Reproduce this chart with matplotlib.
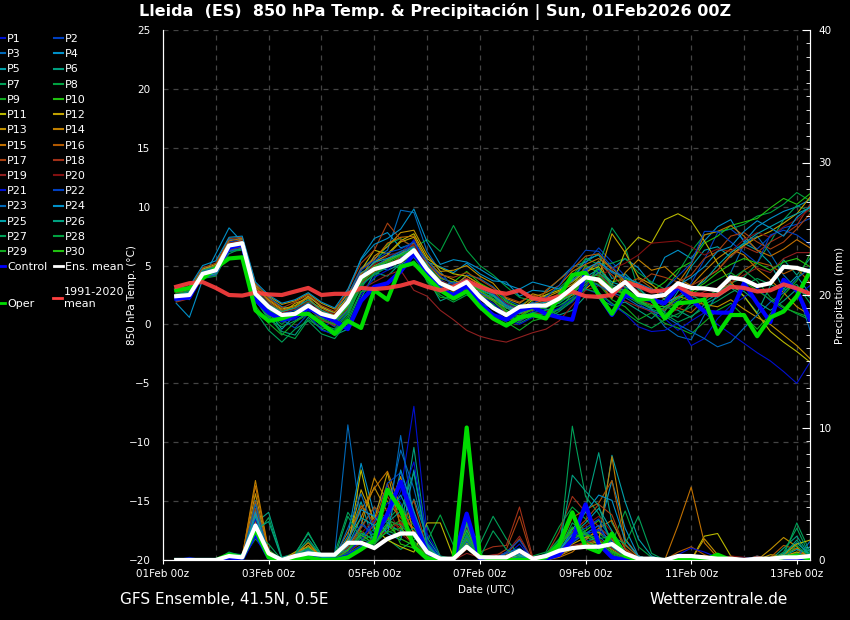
import numpy as np
import pandas as pd
import matplotlib
matplotlib.use("Agg")
import matplotlib.pyplot as plt
import matplotlib.dates as mdates
from matplotlib.lines import Line2D
from matplotlib.ticker import MultipleLocator

# 6-hourly steps, 01Feb 06z .. 13Feb 06z
times = pd.date_range("2026-02-01 06:00", periods=49, freq="6h")

# --- 850 hPa temperature (°C) ---
t_mean = [2.4, 2.5, 4.3, 4.6, 6.7, 6.9, 2.6, 1.5, 0.8, 0.9, 1.6, 0.9, 0.6, 1.9, 4.0, 4.7, 5.0, 5.4, 6.3, 4.7, 3.5, 3.0, 3.6,
          2.35, 1.4, 0.8, 1.5, 1.6, 1.6, 2.2, 3.1, 4.0, 3.8, 2.8, 3.6, 2.5, 2.35, 2.5, 3.5, 3.1, 3.06, 2.9, 4.0, 3.8,
          3.26, 3.5, 4.9, 4.8, 4.5]
t_clim = [3.2, 3.5, 3.6, 3.1, 2.5, 2.45, 2.7, 2.55, 2.5, 2.8, 3.1, 2.5, 2.6, 2.6, 3.1, 3.0, 3.1, 3.3, 3.6, 3.2, 2.9, 3.2, 3.7,
          3.2, 2.8, 2.6, 2.9, 2.2, 2.1, 2.35, 2.8, 2.4, 2.35, 2.5, 3.6, 3.26, 2.8, 2.9, 3.26, 2.6, 2.5, 2.5, 3.2, 3.1,
          2.8, 2.9, 3.4, 3.06, 2.6]
t_control = [2.2, 2.3, 4.3, 4.6, 6.5, 6.8, 2.1, 1.0, 0.4, 0.7, 1.4, 0.8, 0.3, -0.4, 2.0, 3.2, 3.5, 4.5, 6.0, 4.5, 3.0, 2.5, 3.3,
             1.8, 0.8, 0.4, 1.2, 1.5, 0.9, 0.6, 0.4, 4.5, 2.5, 0.8, 2.5, 2.2, 2.1, 1.8, 3.2, 2.1, 1.1, 1.0, 1.0, 3.5,
             1.8, 0.2, 3.8, 2.9, 0.4]
t_oper = [2.9, 3.1, 3.9, 4.8, 5.6, 5.7, 1.2, 0.3, 0.5, 0.9, 0.9, 0.1, -0.8, 0.3, -0.3, 2.9, 2.1, 4.9, 5.2, 4.0, 2.9, 2.2, 2.8,
          1.5, 0.5, -0.1, 0.6, 0.8, 0.5, 2.35, 4.2, 4.4, 2.5, 0.9, 2.9, 2.1, 2.2, 0.5, 1.8, 1.9, 2.1, -0.8, 0.8, 0.8,
          -1.0, 0.6, 1.1, 2.4, 4.5]

t_p01 = [2.0, 2.2, 4.5, 4.8, 6.9, 7.1, 2.2, 1.0, 0.2, 0.5, 1.2, -0.2, 0.3, 1.5, 3.2, 4.3, 4.8, 5.6, 6.8, 4.2, 3.0, 2.6, 3.1, 2.5, 1.8,
         0.9, 0.2, 1.0, 1.3, 1.2, 1.9, 3.1, 4.6, 2.4, 3.2, 1.8, 1.0, 0.5, -0.5, 0.3, 1.0, 0.0, -0.8, -1.6, -2.4, -3.1, -4.0, -5.0, -3.2]
t_p02 = [2.3, 2.8, 4.6, 5.0, 7.0, 7.2, 2.9, 1.2, 0.4, -0.3, 0.9, 0.5, -0.2, 1.0, 3.5, 5.2, 5.9, 6.1, 7.1, 5.0, 3.8, 3.2, 3.0, 2.7, 2.0,
         1.0, 0.5, 1.1, 1.9, 2.5, 3.9, 5.2, 6.5, 5.3, 4.1, 3.0, 2.2, 1.5, 2.0, 3.5, 5.5, 7.8, 8.1, 7.2, 6.4, 7.5, 8.2, 8.5, 9.0]
t_p03 = [2.6, 2.1, 4.8, 4.9, 7.2, 7.3, 3.0, 1.9, 1.0, 1.4, 2.0, 0.6, 0.7, 2.5, 4.8, 5.6, 6.3, 9.7, 9.5, 6.2, 4.5, 3.1, 4.2, 3.9, 3.2,
         2.1, 1.6, 2.2, 2.4, 2.1, 3.0, 4.6, 5.1, 4.4, 3.8, 2.2, 1.3, -0.2, -1.0, -1.3, 0.8, 2.6, 4.4, 6.8, 7.5, 6.0, 4.2, 3.0, -0.5]
t_p04 = [1.8, 0.6, 3.8, 6.0, 8.2, 7.0, 3.4, 2.3, 1.5, 1.2, 2.4, 1.5, 0.9, 2.8, 5.6, 7.3, 7.8, 6.5, 6.9, 5.3, 4.9, 4.4, 5.2, 4.3, 3.7,
         3.6, 2.4, 2.9, 2.8, 3.8, 4.9, 5.3, 6.0, 4.7, 5.6, 4.8, 3.4, 5.7, 6.3, 5.6, 7.1, 8.3, 8.9, 7.0, 8.3, 9.0, 9.6, 10.0, 10.6]
t_p05 = [2.1, 2.4, 4.0, 4.2, 6.4, 6.6, 2.8, 1.1, -0.4, 0.8, 1.3, 0.6, 0.2, 1.7, 4.4, 5.0, 4.6, 5.1, 5.7, 4.3, 2.7, 3.4, 3.9, 3.2, 2.6,
         1.9, 1.2, 1.9, 1.4, 2.7, 3.8, 5.5, 5.9, 3.9, 4.3, 3.2, 1.9, 1.1, 2.8, 4.9, 6.3, 6.6, 5.7, 6.9, 6.3, 5.2, 3.0, 4.1, 2.6]
t_p06 = [2.7, 3.0, 4.4, 4.5, 6.5, 6.8, 2.0, 0.6, -0.6, -0.9, 0.6, -0.4, -0.9, -0.4, 2.2, 4.4, 4.1, 5.2, 6.4, 4.0, 2.0, 2.5, 2.8, 2.5, 2.4,
         1.8, 1.5, 1.7, 1.3, 0.8, 1.2, 2.4, 2.2, 1.6, 1.9, 1.2, 0.5, 1.5, 1.2, 0.6, 1.7, 2.3, 3.1, 2.4, 1.0, 3.3, 5.5, 4.2, 5.6]
t_p07 = [2.5, 2.8, 4.2, 4.4, 6.0, 6.5, 1.1, -0.5, -1.5, -0.4, 0.3, -0.8, -1.2, 0.2, 2.7, 3.9, 5.6, 4.6, 5.9, 4.4, 3.2, 2.6, 3.5, 2.3, 1.6,
         0.6, 0.1, 0.7, 0.5, 1.1, 2.0, 3.2, 5.0, 8.2, 6.6, 3.0, 2.1, 1.0, 0.6, 1.8, 2.2, 2.7, 3.5, 4.0, 5.2, 7.0, 8.9, 10.1, 9.6]
t_p08 = [2.2, 2.5, 3.9, 4.1, 6.2, 6.3, 2.5, 0.9, 0.0, 1.0, 1.5, 0.3, 0.0, 1.3, 3.0, 5.1, 6.8, 7.3, 6.5, 7.2, 6.2, 8.4, 6.3, 5.0, 4.2,
         3.2, 2.3, 2.0, 2.5, 3.1, 4.1, 5.6, 5.1, 5.2, 5.6, 4.4, 3.6, 3.0, 4.4, 6.2, 7.6, 7.9, 8.1, 8.5, 9.2, 9.5, 10.2, 11.2, 10.5]
t_p09 = [2.8, 3.1, 4.5, 4.8, 6.6, 6.7, 1.6, 0.1, -0.9, 0.2, 0.9, 0.1, -0.6, 0.7, 3.3, 4.4, 4.9, 5.5, 6.2, 3.6, 2.3, 2.2, 2.7, 1.7, 0.9,
         0.2, -0.5, 0.3, 0.6, 1.3, 2.6, 3.8, 3.4, 2.1, 1.5, 0.4, 1.0, 0.1, -0.3, -0.8, 0.2, 1.2, 1.8, 0.7, -0.4, 0.9, 2.5, 3.7, 6.0]
t_p10 = [2.3, 2.7, 4.1, 4.7, 6.3, 6.4, 2.3, 0.7, 0.4, 1.1, 1.9, 0.8, 0.4, 1.8, 3.8, 4.8, 5.3, 6.0, 6.6, 4.9, 3.9, 3.6, 4.5, 3.5, 2.9,
         2.0, 1.4, 2.4, 2.0, 2.3, 3.2, 5.0, 4.4, 3.6, 3.9, 3.3, 2.8, 3.6, 4.7, 5.3, 6.9, 7.5, 8.4, 8.7, 9.0, 9.9, 10.7, 10.2, 11.1]
t_p11 = [2.6, 3.0, 4.7, 5.1, 6.9, 7.0, 3.1, 2.1, 1.3, 1.6, 2.4, 1.5, 1.0, 2.3, 4.6, 6.3, 6.0, 7.1, 7.7, 5.6, 4.8, 4.3, 4.1, 3.4, 2.8,
         1.7, 1.2, 2.1, 2.5, 2.9, 3.6, 4.5, 4.9, 3.3, 6.2, 7.4, 6.9, 8.9, 9.4, 8.8, 7.1, 5.2, 3.6, 2.4, 0.9, -0.6, -1.5, -2.3, -3.2]
t_p12 = [2.0, 2.3, 4.2, 4.3, 6.5, 6.8, 2.9, 1.6, 0.9, 1.8, 2.2, 1.2, 0.8, 2.0, 4.1, 5.3, 5.9, 7.0, 7.4, 5.4, 4.3, 3.8, 3.2, 2.8, 2.1,
         1.4, 1.0, 1.3, 1.8, 2.0, 2.5, 3.0, 4.0, 7.7, 6.1, 4.0, 3.4, 2.5, 3.1, 2.7, 3.9, 4.6, 5.9, 6.7, 7.4, 7.9, 8.6, 9.4, 10.8]
t_p13 = [2.4, 2.6, 4.3, 4.6, 6.8, 7.2, 3.3, 2.4, 1.7, 2.0, 2.6, 1.8, 1.3, 2.6, 4.0, 5.8, 6.6, 7.8, 8.0, 5.9, 4.5, 4.6, 5.0, 4.1, 3.5,
         2.2, 1.8, 2.6, 2.3, 2.8, 3.4, 4.3, 5.4, 3.0, 2.6, 2.3, 2.0, 1.8, 2.4, 2.0, 1.7, 1.5, 2.1, 1.3, 0.6, 0.0, -0.9, -1.8, -2.9]
t_p14 = [2.1, 2.3, 4.1, 4.3, 6.7, 7.0, 2.7, 1.8, 1.1, 1.3, 2.0, 1.4, 0.8, 2.2, 4.3, 5.0, 5.5, 6.0, 6.8, 4.6, 3.6, 3.3, 4.1, 3.4, 2.6,
         1.5, 1.1, 1.8, 2.1, 2.4, 3.0, 4.1, 3.6, 2.2, 4.4, 5.5, 4.6, 4.9, 3.9, 3.3, 4.5, 5.6, 6.4, 5.9, 4.7, 3.8, 2.7, 1.5, 0.8]
t_p15 = [2.5, 2.9, 4.6, 5.0, 7.1, 7.3, 3.2, 2.0, 1.2, 1.5, 2.3, 1.0, 0.5, 2.0, 4.7, 5.5, 6.9, 7.4, 7.5, 5.2, 4.0, 3.5, 3.7, 3.0, 2.5,
         1.4, 1.4, 2.3, 2.7, 3.3, 4.5, 5.1, 5.6, 4.8, 3.7, 2.8, 2.0, 2.6, 3.5, 5.1, 7.6, 7.9, 8.4, 7.5, 6.3, 5.8, 6.4, 7.2, 6.5]
t_p16 = [2.2, 2.4, 4.4, 4.6, 6.6, 6.9, 2.8, 1.4, 0.6, 0.8, 1.7, 0.7, 0.1, 1.6, 3.6, 4.5, 5.0, 5.7, 6.9, 4.4, 3.4, 2.8, 3.4, 2.6, 2.0,
         1.0, 0.9, 1.2, 2.9, 3.8, 4.7, 5.8, 6.0, 4.6, 3.5, 3.9, 3.1, 2.1, 1.4, 1.0, 2.1, 3.0, 3.4, 4.6, 5.3, 5.0, 4.3, 4.8, 3.5]
t_p17 = [2.7, 3.1, 4.8, 5.2, 7.3, 7.4, 3.5, 2.2, 1.4, 1.9, 2.5, 1.6, 1.1, 2.9, 5.2, 6.3, 8.6, 7.2, 6.6, 5.1, 4.2, 4.0, 4.4, 3.8, 3.1,
         2.3, 1.9, 2.5, 2.1, 2.6, 3.7, 4.8, 5.2, 4.2, 3.1, 3.5, 4.3, 4.0, 3.6, 4.2, 5.6, 6.2, 7.5, 7.8, 7.0, 6.4, 7.0, 8.1, 9.4]
t_p18 = [1.9, 2.2, 4.0, 4.2, 6.3, 6.6, 2.4, 1.3, 0.5, 0.6, 1.4, 0.4, -0.1, 1.4, 3.4, 4.8, 5.4, 5.2, 6.0, 4.5, 3.6, 2.8, 2.9, 2.1, 1.5,
         0.6, 0.3, 0.9, 1.0, 1.9, 3.3, 4.0, 4.3, 3.2, 2.9, 2.1, 1.7, 1.2, 2.4, 3.3, 3.9, 4.6, 5.8, 6.6, 6.1, 7.0, 7.6, 8.4, 10.2]
t_p19 = [2.3, 2.6, 4.2, 4.5, 6.6, 7.0, 2.6, 1.4, 0.7, 1.0, 1.8, 1.1, 0.7, 1.8, 3.0, 3.6, 4.2, 4.6, 2.9, 2.4, 1.2, 0.4, -0.5, -1.0, -1.3,
         -1.5, -1.1, -0.7, -0.4, 0.3, 1.6, 2.9, 3.3, 2.6, 2.0, 1.5, 1.1, 0.8, 1.3, 2.2, 2.8, 3.1, 3.6, 4.2, 4.8, 4.4, 5.6, 6.1, 6.1]
t_p20 = [2.6, 2.9, 4.5, 4.7, 6.9, 7.1, 3.0, 1.8, 1.0, 1.3, 2.0, 1.2, 0.9, 2.1, 4.2, 5.1, 5.8, 6.2, 6.8, 5.0, 3.7, 3.3, 3.9, 3.3, 2.7,
         1.8, 1.3, 1.6, 2.0, 2.4, 2.9, 3.4, 4.1, 4.7, 5.2, 5.9, 6.9, 7.0, 7.1, 6.6, 5.9, 6.4, 6.2, 7.2, 7.8, 7.4, 8.3, 8.9, 9.8]
t_p21 = [2.1, 2.2, 4.2, 4.4, 6.6, 6.9, 2.3, 0.9, 0.3, 0.4, 0.9, -0.5, -0.8, -0.1, 2.5, 4.0, 4.6, 5.6, 7.2, 4.6, 3.0, 2.4, 2.8, 1.9, 1.3,
         0.4, 0.0, 0.6, 0.9, 1.4, 2.2, 3.0, 2.6, 1.7, 0.9, -0.2, -0.6, -0.5, 0.1, -1.8, -1.2, 0.5, 1.6, 2.3, 3.1, 2.0, 1.2, 2.4, 3.3]
t_p22 = [2.4, 2.7, 4.5, 4.8, 6.8, 7.0, 2.7, 1.6, 0.9, 1.2, 1.8, 1.0, 0.5, 2.2, 4.6, 5.4, 6.1, 6.4, 7.0, 5.4, 4.1, 3.4, 3.8, 3.2, 2.6,
         1.7, 1.3, 1.8, 2.3, 3.3, 4.9, 6.3, 6.2, 4.9, 3.8, 2.7, 1.9, 3.0, 4.1, 5.2, 7.9, 7.9, 7.0, 6.1, 5.2, 7.6, 8.0, 7.6, 6.8]
t_p23 = [2.0, 2.3, 4.0, 4.2, 6.2, 6.5, 2.4, 1.2, 0.5, 0.7, 1.5, 0.6, 0.2, 1.2, 3.9, 4.9, 5.6, 6.2, 6.6, 4.3, 3.2, 3.6, 3.3, 2.7, 2.2,
         1.5, 1.0, 1.4, 1.7, 2.2, 3.1, 3.8, 3.3, 2.7, 2.3, 1.6, 1.2, 0.7, 0.0, -0.6, -1.2, -1.9, -1.5, -0.3, 0.8, 1.9, 2.7, 3.9, 4.8]
t_p24 = [2.8, 3.2, 5.0, 5.4, 7.4, 7.5, 3.6, 2.5, 1.8, 2.1, 2.7, 1.9, 1.4, 3.0, 5.5, 6.8, 7.3, 8.1, 9.8, 7.0, 5.1, 5.5, 5.3, 4.7, 4.0,
         3.4, 3.0, 3.6, 3.3, 3.0, 3.7, 4.7, 5.3, 4.5, 4.0, 3.5, 3.0, 2.6, 3.3, 4.0, 4.9, 6.2, 6.6, 7.9, 8.8, 8.2, 7.5, 9.1, 10.0]
t_p25 = [2.2, 2.4, 4.1, 4.3, 6.5, 6.8, 2.5, 1.3, 0.5, 0.8, 1.6, 0.7, 0.3, 1.6, 4.1, 5.3, 5.6, 6.0, 6.5, 4.6, 3.5, 3.1, 3.6, 2.9, 2.5,
         1.6, 1.1, 1.7, 1.9, 2.3, 3.0, 4.0, 4.7, 3.6, 3.2, 2.6, 2.1, 1.8, 2.3, 2.9, 3.7, 5.0, 6.1, 6.9, 7.7, 8.3, 8.9, 9.4, 9.9]
t_p26 = [2.5, 2.8, 4.6, 4.9, 6.8, 7.0, 2.9, 1.7, 1.1, 1.4, 2.1, 1.2, 0.7, 1.9, 3.9, 4.7, 5.4, 5.9, 6.2, 5.1, 3.6, 3.2, 3.8, 3.0, 2.4,
         1.4, 0.9, 1.6, 1.5, 1.8, 2.6, 3.6, 4.4, 3.4, 2.8, 2.0, 1.4, 2.2, 3.0, 2.5, 1.9, 2.6, 3.4, 2.8, 1.9, 1.2, 2.0, 3.0, 2.3]
t_p27 = [2.1, 2.5, 4.3, 4.4, 6.4, 6.7, 2.1, 0.4, -0.2, 0.3, 1.0, 0.0, -0.4, 0.9, 3.4, 4.2, 4.9, 5.3, 5.8, 4.0, 2.8, 2.4, 3.1, 2.3, 1.7,
         0.7, 0.3, 1.0, 1.2, 1.6, 2.3, 3.4, 4.8, 3.2, 2.7, 1.9, 1.3, 0.9, 0.2, 0.7, 1.4, 2.0, 2.7, 3.3, 3.9, 3.4, 2.9, 3.4, 1.8]
t_p28 = [2.6, 2.9, 4.5, 4.7, 6.7, 6.8, 2.4, 0.8, -0.8, -1.2, 0.4, -0.3, -0.5, 0.5, 2.8, 2.9, 3.5, 4.7, 5.4, 3.7, 2.5, 1.9, 2.5, 1.8, 1.4,
         0.8, 0.4, 0.9, 0.8, 1.3, 2.1, 3.0, 2.7, 1.8, 1.0, 0.2, -0.3, 0.4, 0.9, 1.5, 2.3, 2.9, 3.8, 4.6, 3.7, 2.3, 1.5, 0.9, 0.4]
t_p29 = [2.4, 2.6, 4.4, 4.5, 6.5, 6.7, 2.2, 1.0, 0.3, 0.6, 1.4, 0.5, 0.0, 1.1, 3.6, 4.6, 5.2, 5.8, 6.1, 4.2, 3.1, 2.7, 3.2, 2.5, 2.0,
         1.1, 0.6, 1.3, 1.4, 1.9, 2.8, 3.9, 4.2, 3.0, 2.5, 1.8, 1.5, 1.3, 1.9, 2.6, 3.2, 3.8, 4.4, 3.6, 2.9, 2.1, 1.4, 1.0, 0.6]
t_p30 = [2.3, 2.6, 4.2, 4.6, 6.6, 6.8, 2.6, 1.2, 0.6, 0.9, 1.5, 0.6, 0.3, 1.5, 3.7, 4.9, 5.4, 5.9, 6.4, 4.8, 3.6, 3.1, 3.5, 2.9, 2.2,
         1.2, 0.7, 1.4, 1.6, 2.0, 2.7, 3.7, 4.0, 3.1, 2.6, 2.0, 1.6, 1.5, 2.2, 2.8, 3.5, 4.4, 5.1, 5.6, 5.2, 4.6, 5.3, 5.6, 4.9]

# --- precipitation (mm / 6h) ---
p_mean = [0, 0, 0, 0, 0.3, 0.2, 2.6, 0.5, 0, 0.3, 0.5, 0.4, 0.4, 1.3, 1.3, 0.9, 1.6, 2.0, 2.0, 0.6, 0.1, 0.1, 1.0, 0.2,
          0.2, 0.2, 0.7, 0.1, 0.3, 0.7, 0.9, 1.0, 1.0, 1.2, 0.5, 0.1, 0.1, 0, 0.3, 0.3, 0.2, 0.1, 0.1, 0, 0.1, 0.1, 0.2, 0.2, 0.3]
p_control = [0, 0, 0, 0, 0.2, 0.1, 2.0, 0.2, 0, 0.1, 0.3, 0, 0, 0.3, 0.9, 1.5, 3.5, 5.9, 3.0, 0.6, 0, 0, 3.5, 0.1,
             0, 0, 0, 0, 0.1, 0.4, 1.5, 4.2, 1.2, 0.2, 0, 0, 0, 0, 0, 0, 0, 0, 0, 0, 0, 0, 0.1, 0.2, 0.1]
p_oper = [0, 0, 0, 0, 0.4, 0.2, 2.3, 0.2, 0, 0.1, 0.2, 0, 0, 0.2, 0.8, 1.5, 5.3, 3.8, 1.0, 0.1, 0, 0, 10.0, 0.3,
          0, 0, 0, 0, 0.2, 1.2, 3.6, 1.0, 0.6, 2.0, 0.3, 0, 0, 0, 0, 0, 0, 0.4, 0, 0, 0, 0, 0.2, 0.3, 0.1]

pr_p01 = [0, 0.2, 0, 0, 0.3, 0.2, 3.2, 0.3, 0, 0.4, 0.6, 0.1, 0, 0.4, 1.8, 2.6, 3.1, 5.2, 11.6, 2.0, 0.3, 0, 2.5, 0.2,
          0, 0.3, 1.2, 0, 0, 0.5, 1.4, 2.0, 2.6, 1.0, 0.2, 0, 0, 0, 0, 0, 0.1, 0, 0, 0.2, 0, 0, 0.1, 0.3, 0]
pr_p02 = [0, 0, 0, 0, 0.4, 0.3, 2.6, 0.2, 0, 0.2, 0.3, 0, 0, 0.9, 1.2, 3.5, 5.6, 4.3, 2.0, 0.6, 0, 0.1, 1.6, 0,
          0, 0, 0.5, 0, 0.4, 1.3, 2.3, 1.6, 0.8, 1.1, 0.3, 0, 0, 0, 0, 0.1, 0, 0.2, 0, 0, 0, 0, 0, 0.1, 0.4]
pr_p03 = [0, 0, 0, 0, 0.2, 0.1, 4.5, 0.4, 0, 0.3, 0.8, 0.2, 0.4, 10.2, 3.0, 1.5, 2.4, 9.4, 3.1, 0.9, 0.2, 0, 1.9, 0.3,
          0, 0.6, 0.8, 0, 0, 0.4, 0.9, 1.3, 1.8, 0.9, 0.4, 0, 0, 0, 0, 0, 0.3, 0, 0, 0.1, 0, 0, 0, 0.2, 1.0]
pr_p04 = [0, 0, 0, 0, 0.3, 0.2, 2.1, 0.5, 0, 0.2, 0.5, 0.1, 0.2, 1.8, 7.3, 3.4, 2.0, 1.5, 6.8, 1.2, 0, 0, 1.2, 0.1,
          0, 0, 0.3, 0, 0.2, 0.6, 1.6, 2.0, 2.2, 6.0, 2.4, 0.3, 0, 0, 0, 0, 0.1, 0, 0, 0, 0.3, 0, 0, 0.1, 0.8]
pr_p05 = [0, 0, 0, 0, 0.4, 0.3, 3.8, 0.2, 0, 0.4, 0.9, 0.2, 0.1, 1.5, 4.4, 1.2, 2.6, 2.2, 4.6, 1.7, 0.2, 0, 2.2, 0.3,
          0, 0, 0.4, 0, 0, 0.3, 2.0, 1.7, 1.4, 7.9, 4.4, 1.6, 0.3, 0, 0, 0, 0, 0.2, 0, 0, 0, 0, 0.5, 1.3, 0.4]
pr_p06 = [0, 0, 0, 0, 0.5, 0.4, 2.8, 3.6, 0.2, 0.5, 2.0, 0.4, 0.3, 1.0, 2.5, 4.0, 2.8, 2.1, 8.5, 1.3, 0.1, 0, 1.0, 0.2,
          0, 0, 0.2, 0, 0.5, 1.5, 1.8, 3.9, 8.1, 2.8, 1.1, 0.3, 0, 0, 0, 0, 0, 0, 0, 0, 0, 0, 0.9, 1.8, 0.3]
pr_p07 = [0, 0, 0, 0, 0.6, 0.3, 1.8, 3.2, 0.1, 0.3, 1.4, 0.3, 0.5, 3.6, 2.1, 1.0, 1.6, 0.8, 1.5, 2.6, 0.3, 0.1, 2.8, 1.2,
          3.3, 1.6, 0.3, 0, 0.3, 0.4, 10.1, 4.8, 3.5, 1.4, 0.6, 0.1, 0, 0, 0, 0, 0.2, 0.1, 0, 0.1, 0, 0, 0.3, 2.8, 0.6]
pr_p08 = [0, 0, 0, 0, 0.3, 0.2, 2.4, 0.8, 0, 0.2, 0.6, 0.1, 0.2, 0.6, 1.7, 2.3, 3.0, 4.1, 2.6, 1.4, 3.4, 1.1, 2.0, 0.2,
          0, 0, 0.1, 0.3, 0.6, 2.5, 4.0, 3.1, 2.0, 1.3, 3.7, 1.0, 0.2, 0, 0, 0, 0, 0, 0, 0, 0, 0, 0.2, 0.6, 0.3]
pr_p09 = [0, 0, 0, 0, 0.2, 0.1, 1.6, 0.4, 0, 0.1, 0.3, 0, 0, 0.3, 0.9, 1.8, 2.4, 3.0, 1.4, 0.6, 0, 0, 1.4, 0,
          0, 0, 0, 0, 0.3, 1.1, 2.5, 1.8, 1.1, 0.4, 0.1, 0, 0, 0, 0, 0, 0, 0, 0, 0, 0, 0, 0, 0.3, 0.2]
pr_p10 = [0, 0, 0, 0, 0.4, 0.2, 2.2, 0.6, 0, 0.3, 0.4, 0.1, 0.1, 0.8, 2.2, 1.4, 3.3, 1.2, 0.9, 0.3, 0, 0, 2.3, 0.1,
          0, 0, 0.2, 0, 0, 0.8, 1.5, 2.2, 3.0, 1.6, 0.5, 0.1, 0, 0, 0, 0, 0, 0, 0, 0, 0, 0, 0.1, 0.4, 0]
pr_p11 = [0, 0, 0, 0, 0.3, 0.1, 2.9, 0.3, 0, 0.6, 1.0, 0.2, 0.1, 0.7, 6.8, 2.4, 1.5, 1.0, 0.6, 2.8, 2.8, 0.2, 1.3, 0,
          0, 0, 0.1, 0, 0, 0.5, 0.9, 1.0, 1.2, 0.6, 0.2, 0, 0, 0, 0, 0, 1.8, 2.0, 0.3, 0, 0, 0.2, 0.4, 1.2, 1.5]
pr_p12 = [0, 0, 0, 0, 0.2, 0.1, 3.5, 0.4, 0, 0.5, 0.8, 0.1, 0, 1.2, 5.3, 3.0, 6.6, 2.5, 1.0, 0.5, 0.2, 0, 1.8, 0.2,
          0, 0, 0.3, 0, 0, 0.4, 1.2, 1.7, 2.1, 1.5, 0.5, 0.2, 0, 0, 0, 0, 0.3, 0.1, 0, 0, 0, 0.4, 0.3, 0.6, 0.2]
pr_p13 = [0, 0, 0, 0, 0.3, 0.2, 5.0, 0.5, 0, 0.3, 1.1, 0.3, 0.2, 1.6, 3.2, 5.5, 3.6, 6.3, 1.8, 0.8, 0, 0, 0.9, 0,
          0, 0, 0.4, 0, 0, 0.3, 0.8, 1.1, 1.4, 0.8, 0.2, 0, 0, 0, 0, 0, 1.6, 0.4, 0, 0, 0, 0.8, 1.7, 1.0, 0]
pr_p14 = [0, 0, 0, 0, 0.3, 0.2, 6.0, 0.7, 0, 0.4, 1.3, 0.2, 0.1, 1.0, 2.6, 6.2, 4.4, 3.2, 2.4, 0.9, 0.1, 0, 1.6, 0.1,
          0, 0.2, 0.6, 0, 0, 0.3, 1.0, 1.2, 1.5, 7.8, 1.6, 0.3, 0, 0, 0, 0, 0.2, 0.1, 0, 0, 0, 0, 0.4, 0.9, 0.2]
pr_p15 = [0, 0, 0, 0, 0.4, 0.3, 5.6, 0.6, 0, 0.2, 0.9, 0.2, 0.3, 2.1, 3.8, 5.4, 6.7, 4.0, 2.1, 0.7, 0, 0, 1.1, 0.2,
          0, 0.3, 0.8, 0, 0, 0.2, 0.6, 1.5, 2.4, 3.0, 0.8, 0.1, 0, 0, 2.6, 5.5, 1.3, 0.2, 0, 0, 0, 0, 0.2, 0.5, 0.1]
pr_p16 = [0, 0, 0, 0, 0.3, 0.2, 4.4, 0.4, 0, 0.3, 0.7, 0.1, 0.2, 1.3, 4.1, 2.8, 5.8, 2.6, 3.3, 1.0, 0.2, 0, 2.6, 0.2,
          0, 0.4, 1.6, 0, 0.2, 0.9, 3.2, 3.8, 4.3, 6.0, 1.2, 0.2, 0, 0, 0.6, 1.0, 0.4, 0, 0, 0, 0, 0.2, 1.1, 0.8, 0]
pr_p17 = [0, 0, 0, 0, 0.2, 0.2, 3.9, 0.3, 0, 0.5, 0.6, 0, 0.1, 0.8, 2.4, 4.0, 3.1, 2.4, 4.5, 0.8, 0, 0, 1.5, 0.3,
          0.2, 0.8, 3.3, 0, 0, 0.7, 2.1, 3.0, 4.2, 3.4, 0.9, 0.1, 0, 0, 0, 0, 0, 0.3, 0, 0, 0, 0, 0, 0.2, 0]
pr_p18 = [0, 0, 0, 0, 0.3, 0.2, 3.0, 0.3, 0, 0.1, 0.5, 0.1, 0, 0.6, 1.3, 2.7, 4.8, 3.2, 1.8, 0.4, 0, 0, 0.8, 0.6,
          1.0, 1.1, 4.0, 0.2, 0.3, 2.1, 4.8, 3.6, 2.5, 1.6, 0.4, 0, 0, 0, 0, 0, 0, 0.2, 0, 0, 0.3, 0, 0, 0.1, 0]
pr_p19 = [0, 0, 0, 0, 0.2, 0.1, 2.7, 0.3, 0, 0.2, 0.4, 0, 0, 0.4, 1.0, 1.7, 2.2, 2.9, 1.1, 0.5, 0, 0, 0.5, 0.2,
          0.4, 0.5, 1.8, 0, 0, 0.4, 1.1, 1.3, 1.6, 0.9, 0.2, 0, 0, 0, 0, 0, 0, 0, 0.2, 0, 0, 0, 0, 0, 0]
pr_p20 = [0, 0, 0, 0, 0.2, 0.1, 3.3, 0.4, 0, 0.3, 0.6, 0.1, 0.1, 0.9, 2.0, 3.1, 3.9, 2.0, 1.2, 0.4, 0, 0, 1.0, 0.1,
          0, 0, 0.6, 0, 0.2, 0.6, 1.9, 2.6, 3.3, 2.1, 0.7, 0.1, 0, 0, 0, 0, 0, 0, 0.3, 0.2, 0, 0, 0, 0.1, 0]
pr_p21 = [0, 0.1, 0, 0, 0.3, 0.2, 3.1, 0.3, 0, 0.2, 0.4, 0, 0.1, 0.6, 1.5, 2.9, 4.3, 4.6, 7.4, 1.5, 0.1, 0, 3.3, 0.1,
          0, 0, 0.2, 0, 0.2, 1.0, 1.5, 1.9, 2.3, 1.2, 0.3, 0, 0.2, 0, 0.4, 0.9, 0.6, 0.2, 0, 0.1, 0.2, 0, 0, 0, 0.2]
pr_p22 = [0, 0, 0, 0, 0.2, 0.2, 2.5, 0.4, 0, 0.3, 0.5, 0.1, 0.2, 1.1, 2.7, 1.9, 5.8, 6.6, 3.5, 0.9, 0, 0, 1.4, 0.2,
          0, 0.6, 1.5, 0, 0.3, 0.8, 2.0, 2.4, 3.1, 1.4, 0.4, 0, 0, 0, 0, 0, 0, 0, 0.1, 0, 0, 0, 0, 0.3, 0.2]
pr_p23 = [0, 0, 0, 0, 0.3, 0.2, 4.2, 0.4, 0, 0.3, 0.8, 0.2, 0.1, 2.4, 5.0, 2.1, 3.6, 8.3, 5.4, 1.3, 0.1, 0, 1.8, 0,
          0, 0.5, 0.9, 0, 0, 0.3, 1.3, 2.0, 2.6, 1.0, 0.3, 0, 0, 0, 0, 0.2, 0, 0, 0, 0, 0, 0, 0.1, 0.2, 1.4]
pr_p24 = [0, 0, 0, 0, 0.2, 0.1, 3.6, 0.3, 0, 0.2, 0.7, 0.1, 0.2, 1.4, 3.8, 3.3, 2.0, 6.8, 3.7, 0.9, 0, 0, 1.1, 0.1,
          0, 0.2, 0.4, 0, 0, 0.6, 2.3, 3.6, 4.9, 4.5, 1.5, 0.3, 0, 0, 0, 0, 0, 0, 0, 0, 0, 0, 0.1, 0.4, 0.3]
pr_p25 = [0, 0, 0, 0, 0.4, 0.3, 3.3, 0.5, 0, 0.4, 0.9, 0.2, 0.2, 1.1, 3.2, 2.6, 3.4, 4.9, 2.8, 1.1, 0.1, 0, 2.7, 0.2,
          0, 0, 0.3, 0, 0.3, 0.7, 1.9, 2.8, 3.9, 2.2, 0.6, 0, 0, 0, 0, 0, 0, 0, 0, 0, 0.1, 0, 0.3, 0.8, 0.5]
pr_p26 = [0, 0, 0, 0, 0.5, 0.3, 2.3, 2.9, 0.1, 0.4, 1.6, 0.3, 0.3, 0.8, 2.0, 1.6, 2.8, 3.7, 6.6, 1.0, 0, 0, 1.5, 0.2,
          0, 0, 0.2, 0, 0.2, 0.9, 6.4, 5.2, 4.1, 1.0, 0.3, 0, 0, 0, 0, 0, 0, 0, 0, 0, 0, 0, 0.4, 1.5, 0.2]
pr_p27 = [0, 0, 0, 0, 0.5, 0.3, 2.0, 1.2, 0, 0.4, 2.1, 0.3, 0.2, 3.3, 1.6, 1.2, 2.2, 1.8, 2.4, 0.9, 0.1, 0, 1.9, 0.2,
          2.2, 0.8, 0.2, 0, 0.2, 0.8, 2.8, 2.0, 1.6, 1.8, 1.2, 3.3, 0.5, 0, 0, 0, 0, 0, 0, 0, 0, 0, 0.6, 2.4, 0.3]
pr_p28 = [0, 0, 0, 0, 0.4, 0.2, 1.9, 0.5, 0, 0.2, 0.9, 0.1, 0.1, 1.2, 1.4, 2.0, 3.0, 2.6, 1.7, 0.6, 0, 0, 1.2, 0,
          0, 0, 0.1, 0, 0.4, 1.6, 3.4, 2.1, 1.2, 0.6, 0.2, 0, 0, 0, 0, 0, 0, 0, 0, 0, 0, 0, 0.2, 1.1, 0.2]
pr_p29 = [0, 0, 0, 0, 0.3, 0.2, 2.2, 0.3, 0, 0.2, 0.5, 0.1, 0.1, 0.5, 1.1, 1.5, 2.1, 2.4, 1.3, 0.5, 0, 0, 1.6, 0.1,
          0, 0, 0, 0, 0.3, 1.2, 2.1, 1.4, 1.0, 0.5, 0.1, 0, 0, 0, 0, 0, 0, 0, 0, 0, 0, 0, 0.1, 0.5, 0.1]
pr_p30 = [0, 0, 0, 0, 0.3, 0.2, 2.6, 0.4, 0, 0.3, 0.6, 0.1, 0.1, 0.7, 1.9, 1.2, 2.7, 1.6, 1.1, 0.4, 0, 0, 2.9, 0.1,
          0, 0, 0.1, 0, 0.2, 0.9, 2.4, 1.9, 1.5, 0.7, 0.2, 0, 0, 0, 0, 0, 0, 0, 0, 0, 0, 0, 0.2, 0.4, 0]

temp_members = [t_p01, t_p02, t_p03, t_p04, t_p05, t_p06, t_p07, t_p08, t_p09, t_p10,
                t_p11, t_p12, t_p13, t_p14, t_p15, t_p16, t_p17, t_p18, t_p19, t_p20,
                t_p21, t_p22, t_p23, t_p24, t_p25, t_p26, t_p27, t_p28, t_p29, t_p30]
prec_members = [pr_p01, pr_p02, pr_p03, pr_p04, pr_p05, pr_p06, pr_p07, pr_p08, pr_p09, pr_p10,
                pr_p11, pr_p12, pr_p13, pr_p14, pr_p15, pr_p16, pr_p17, pr_p18, pr_p19, pr_p20,
                pr_p21, pr_p22, pr_p23, pr_p24, pr_p25, pr_p26, pr_p27, pr_p28, pr_p29, pr_p30]

# member colours: blue -> green -> yellow -> red, repeated for P21-P30
member_colors = ["#0010d0", "#0040c0", "#0068b8", "#0090c8", "#00a0a8", "#00a080",
                 "#00a058", "#00a040", "#10a820", "#20c010", "#b8b800", "#c0a000",
                 "#c09000", "#c08000", "#c07000", "#b05800", "#a84010", "#a03018",
                 "#902020", "#801010"]
c_control = "#0000ff"
c_oper = "#00dd00"
c_mean = "#ffffff"
c_clim = "#ff4040"

tick_labels = ["01Feb 00z", "03Feb 00z", "05Feb 00z", "07Feb 00z",
               "09Feb 00z", "11Feb 00z", "13Feb 00z"]

plt.rcParams["font.family"] = ["DejaVu Sans"]

fig = plt.figure(figsize=(8.5, 6.2), dpi=100, facecolor="black")
ax = fig.add_axes([163 / 850, 1 - 560 / 620, 647 / 850, 530 / 620])
ax.set_facecolor("black")
ax2 = ax.twinx()

for k in range(30):
    col = member_colors[k % 20]
    ax.plot(times, temp_members[k], color=col, lw=0.8, zorder=2)
    ax2.plot(times, prec_members[k], color=col, lw=0.8, zorder=2)

ax.plot(times, t_control, color=c_control, lw=3, zorder=3)
ax.plot(times, t_oper, color=c_oper, lw=3, zorder=4)
ax.plot(times, t_clim, color=c_clim, lw=3, alpha=0.9, zorder=5)
ax.plot(times, t_mean, color=c_mean, lw=3, zorder=6)

ax2.plot(times, p_control, color=c_control, lw=3, zorder=3)
ax2.plot(times, p_oper, color=c_oper, lw=3, zorder=4)
ax2.plot(times, p_mean, color=c_mean, lw=3, zorder=6)

t0 = pd.Timestamp("2026-02-01 00:00")
t1 = pd.Timestamp("2026-02-13 06:00")
ax.set_xlim(t0, t1)
ax.set_ylim(-20, 25)
ax2.set_ylim(0, 40)

major = pd.date_range(t0, "2026-02-13 00:00", freq="2D")
ax.set_xticks(major)
ax.set_xticklabels(tick_labels)
ax.xaxis.set_minor_locator(mdates.DayLocator())
ax.yaxis.set_major_locator(MultipleLocator(5))
ax.grid(True, which="both", axis="x", color="#444444", ls=(0, (4, 4)), lw=0.9)
ax.grid(True, which="major", axis="y", color="#444444", ls=(0, (4, 4)), lw=0.9)
ax.set_axisbelow(True)

ax.tick_params(axis="x", which="major", colors="white", labelsize=7.5, length=3)
ax.tick_params(axis="x", which="minor", length=0)
ax.tick_params(axis="y", colors="white", labelsize=7.5, length=0, pad=9)
ax2.yaxis.set_major_locator(MultipleLocator(10))
ax2.yaxis.set_minor_locator(MultipleLocator(1))
ax2.tick_params(axis="y", which="major", direction="in", length=6, colors="white",
                labelsize=7.5, pad=6)
ax2.tick_params(axis="y", which="minor", direction="in", length=3, color="white")

for a in (ax, ax2):
    a.spines["top"].set_visible(False)
    for s in ("left", "right", "bottom"):
        a.spines[s].set_color("white")

ax.set_ylabel("850 hPa Temp. (°C)", color="white", fontsize=7.5)
ax.yaxis.set_label_coords(-0.040, 0.5)
ax2.set_ylabel("Precipitation (mm)", color="white", fontsize=7.5)
ax2.yaxis.set_label_coords(1.039, 0.5)
ax.set_xlabel("Date (UTC)", color="white", fontsize=7.5, labelpad=4)

fig.text(435 / 850, 0.981, "Lleida  (ES)  850 hPa Temp. & Precipitación | Sun, 01Feb2026 00Z",
         color="white", fontsize=11.5, fontweight="bold", ha="center", va="center")
fig.text(120 / 850, 1 - 599 / 620, "GFS Ensemble, 41.5N, 0.5E", color="white",
         fontsize=11, ha="left", va="center")
fig.text(650 / 850, 1 - 599 / 620, "Wetterzentrale.de", color="white",
         fontsize=11, ha="left", va="center")

# legend: two columns on the left
leg_kw = dict(frameon=False, fontsize=8, labelcolor="white", handlelength=0.8,
              handletextpad=0.15, borderpad=0, borderaxespad=0)
handles, labels = [], []
for k in range(0, 30, 2):
    handles.append(Line2D([], [], color=member_colors[k % 20], lw=1.5))
    labels.append(f"P{k + 1}")
handles.append(Line2D([], [], color=c_control, lw=2))
labels.append("Control")
for k in range(1, 30, 2):
    handles.append(Line2D([], [], color=member_colors[k % 20], lw=1.5))
    labels.append(f"P{k + 1}")
handles.append(Line2D([], [], color=c_mean, lw=2))
labels.append("Ens. mean")
fig.legend(handles, labels, loc="upper left", bbox_to_anchor=(-0.004, 1 - 34 / 620),
           ncol=2, columnspacing=0.6, labelspacing=0.47, **leg_kw)
fig.legend([Line2D([], [], color=c_oper, lw=2)], ["Oper"], loc="upper left",
           bbox_to_anchor=(-0.004, 1 - 299 / 620), **leg_kw)
fig.legend([Line2D([], [], color=c_clim, lw=2)], ["1991-2020\nmean"], loc="upper left",
           bbox_to_anchor=(53 / 850, 1 - 287 / 620), **leg_kw)

fig.savefig("out.png", dpi=100, facecolor="black")
